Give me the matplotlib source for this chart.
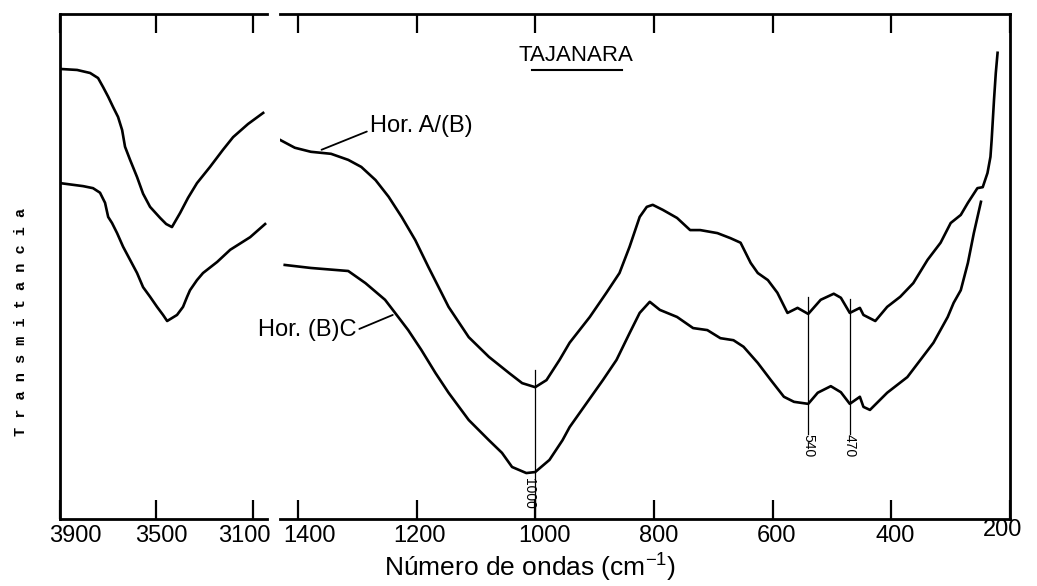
import matplotlib
matplotlib.use('Agg')
import matplotlib.pyplot as plt
import matplotlib.transforms as mtransforms

# wavenumber (cm-1) and transmittance (arbitrary units, 0 = bottom of the frame)
hi_wn_a = [3900, 3829, 3775, 3742, 3721, 3700, 3680, 3659, 3642, 3630, 3609,
           3580, 3555, 3526, 3484, 3459, 3435, 3401, 3368, 3331, 3277, 3223,
           3181, 3119, 3056]
hi_t_a = [89.1, 88.9, 88.3, 87.3, 85.5, 83.6, 81.6, 79.6, 77.0, 73.7, 71.1,
          67.7, 64.4, 61.8, 59.6, 58.4, 57.8, 60.6, 63.6, 66.5, 69.7, 73.1,
          75.6, 78.2, 80.4]

hi_wn_bc = [3900, 3804, 3763, 3734, 3713, 3700, 3684, 3663, 3638, 3609, 3580,
            3555, 3526, 3497, 3472, 3455, 3414, 3389, 3372, 3360, 3331, 3306,
            3247, 3193, 3110, 3048]
hi_t_bc = [66.5, 65.9, 65.5, 64.6, 62.6, 59.8, 58.6, 56.6, 53.9, 51.3, 48.7,
           45.9, 44.0, 42.0, 40.4, 39.2, 40.4, 42.0, 44.0, 45.3, 47.3, 48.7,
           50.9, 53.3, 55.8, 58.4]

lo_wn_a = [1429, 1405, 1378, 1344, 1315, 1293, 1269, 1247, 1225, 1202, 1180,
           1158, 1146, 1112, 1078, 1044, 1022, 1000, 981, 959, 942, 908, 880,
           858, 841, 824, 812, 802, 785, 761, 739, 722, 693, 671, 654, 637,
           625, 608, 592, 575, 558, 540, 519, 497, 485, 470, 453, 447, 427,
           407, 385, 363, 339, 317, 300, 283, 271, 255, 246, 238, 233, 231,
           227, 224, 221]
lo_t_a = [75.0, 73.5, 72.7, 72.3, 71.1, 69.7, 67.1, 63.8, 59.8, 55.2, 49.9,
          44.8, 42.0, 36.0, 32.1, 28.9, 26.9, 26.1, 27.5, 31.5, 34.9, 40.0, 44.8,
          48.7, 53.9, 59.8, 61.8, 62.2, 61.2, 59.6, 57.2, 57.2, 56.6, 55.6, 54.7, 50.7,
          48.7, 47.3, 44.8, 40.8, 41.8, 40.6, 43.4, 44.6, 43.8, 40.8, 41.8, 40.4, 39.2,
          42.0, 44.0, 46.7, 51.3, 54.7, 58.6, 60.2, 62.6, 65.5, 65.7, 68.5, 71.7, 75.0,
          83.0, 88.3, 92.3]

lo_wn_bc = [1422, 1378, 1315, 1286, 1253, 1236, 1214, 1192, 1168, 1146, 1112,
            1078, 1056, 1039, 1015, 1000, 976, 954, 942, 886, 863, 841, 824,
            807, 790, 761, 734, 710, 688, 666, 649, 625, 603, 581, 564, 540,
            524, 502, 485, 470, 453, 447, 436, 407, 373, 351, 329, 305, 295,
            283, 271, 261, 249]
lo_t_bc = [50.3, 49.7, 49.1, 46.7, 43.4, 40.8, 37.4, 33.5, 28.9, 25.0, 19.6,
           15.6, 13.1, 10.3, 9.1, 9.3, 11.7, 15.6, 18.2, 27.5, 31.5, 36.8, 40.8,
           43.0, 41.4, 40.0, 37.8, 37.4, 35.8, 35.4, 34.1, 30.9, 27.5, 24.2, 23.2, 22.8,
           25.0, 26.3, 25.1, 22.8, 24.2, 22.2, 21.6, 25.0, 28.1, 31.5, 34.9, 40.0, 42.8,
           45.3, 50.7, 56.6, 62.8]

hi_ticks = [3900, 3500, 3100]
lo_ticks = [1400, 1200, 1000, 800, 600, 400, 200]
bands = [1000, 540, 470]

plt.rcParams['font.family'] = ['Liberation Sans', 'DejaVu Sans']
plt.rcParams['mathtext.default'] = 'regular'

fig = plt.figure(figsize=(10.37, 5.86), dpi=100)
bottom = 0.1143
height = 0.862
ax1 = fig.add_axes([0.0579, bottom, 0.1996, height])
ax2 = fig.add_axes([0.2700, bottom, 0.7040, height])

ax1.plot(hi_wn_a, hi_t_a, color='black', lw=1.9)
ax1.plot(hi_wn_bc, hi_t_bc, color='black', lw=1.9)
ax2.plot(lo_wn_a, lo_t_a, color='black', lw=1.9)
ax2.plot(lo_wn_bc, lo_t_bc, color='black', lw=1.9)

ax1.set_xlim(3900, 3040)
ax2.set_xlim(1430, 200)
for ax in (ax1, ax2):
    ax.set_ylim(0, 100)
    ax.set_yticks([])
    ax.tick_params(axis='x', direction='in', length=13.5, width=1.6,
                   top=True, bottom=True, labelsize=17, pad=4)
    for s in ax.spines.values():
        s.set_linewidth(2)
ax1.set_xticks(hi_ticks)
ax2.set_xticks(lo_ticks)
ax1.spines['right'].set_visible(False)
ax2.spines['left'].set_visible(False)

# hand-lettered tick labels sit a little off their ticks
shifts1 = [(15, 0), (5, 0), (-8, 0)]
shifts2 = [(12, 0), (3, 0), (9, 0), (5, 0), (4, 0), (4, 0), (-7, 6)]
for ax, shifts in ((ax1, shifts1), (ax2, shifts2)):
    for lab, (dx, dy) in zip(ax.get_xticklabels(), shifts):
        off = mtransforms.ScaledTranslation(dx / 100, dy / 100, fig.dpi_scale_trans)
        lab.set_transform(lab.get_transform() + off)

# band markers
t_top = {1000: 29.5, 540: 44.0, 470: 43.6}
for wn in bands:
    if wn == 1000:
        ax2.plot([wn, wn], [t_top[wn], 0], color='black', lw=0.9)
        ax2.text(wn + 10, 2.0, str(wn), rotation=-90, fontsize=10,
                 ha='center', va='bottom')
    else:
        ax2.plot([wn, wn], [t_top[wn], 16.8], color='black', lw=0.9)
        ax2.text(wn, 16.8, str(wn), rotation=-90, fontsize=10,
                 ha='center', va='top')

# title
ax2.text(0.406, 0.918, 'TAJANARA', transform=ax2.transAxes, fontsize=16,
         ha='center', va='center')
ax2.plot([0.345, 0.468], [0.888, 0.888], transform=ax2.transAxes,
         color='black', lw=1.5)

ax2.annotate('Hor. A/(B)', xy=(1360, 73.1), xytext=(1279, 77.8),
             fontsize=17, ha='left', va='center',
             arrowprops=dict(arrowstyle='-', relpos=(0, 0.3), shrinkA=0,
                             shrinkB=0, lw=1.3, color='black'))
ax2.annotate('Hor. (B)C', xy=(1240, 40.4), xytext=(1301, 37.4),
             fontsize=17, ha='right', va='center',
             arrowprops=dict(arrowstyle='-', relpos=(1, 0.5), shrinkA=0,
                             shrinkB=0, lw=1.3, color='black'))

fig.text(0.020, 0.45, 'T r a n s m i t a n c i a', rotation=90,
         family='Liberation Mono', fontweight='bold', fontsize=11,
         ha='center', va='center')
fig.text(0.511, 0.031, 'Número de ondas (cm$^{-1}$)', fontsize=19,
         ha='center', va='center')

fig.savefig('out.png', dpi=100)
